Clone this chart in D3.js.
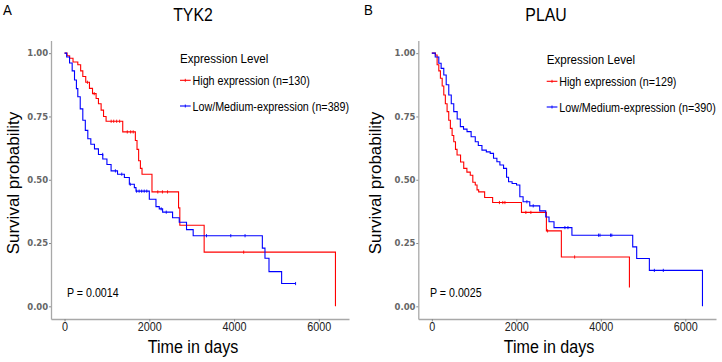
<!DOCTYPE html>
<html>
<head>
<meta charset="utf-8">
<script src="https://cdn.jsdelivr.net/npm/d3@7"></script>
<style>
  body { margin: 0; background: #fff; }
  svg { display: block; }
</style>
</head>
<body>
<script>
var panelLetters = ["A", "B"];
var genes = ["TYK2", "PLAU"];
var groupNames = ["High expression", "Low/Medium-expression"];
var groupN = [[130, 389], [129, 390]];
var pValues = ["P = 0.0014", "P = 0.0025"];
var xTicks = [0, 2000, 4000, 6000];
var yTicks = [0, 0.25, 0.5, 0.75, 1];

// TYK2 high expression (time in days / survival)
var tykHighT = [0, 60, 120, 200, 313, 380, 431, 500, 588, 660, 745, 800, 863, 920, 980, 1373, 1671, 1710, 1748, 1790, 1828, 2063, 2690, 2720, 3294, 6392];
var tykHighS = [1, 0.99, 0.98, 0.965, 0.954, 0.93, 0.908, 0.885, 0.861, 0.84, 0.821, 0.80, 0.775, 0.75, 0.731, 0.689, 0.655, 0.62, 0.575, 0.545, 0.522, 0.452, 0.389, 0.32, 0.214, 0];
var tykHighCens = [540, 700, 1100, 1160, 1230, 1300, 1480, 1560, 1620, 2200, 2310, 2430, 4227];

// TYK2 low/medium expression
var tykLowT = [0, 50, 118, 180, 235, 280, 313, 370, 431, 490, 549, 620, 706, 800, 902, 1000, 1098, 1250, 1412, 1529, 1647, 1686, 2000, 2157, 2235, 2314, 2549, 2706, 2878, 3035, 4667, 4729, 4824, 5122, 5451];
var tykLowS = [1, 0.985, 0.961, 0.93, 0.894, 0.86, 0.828, 0.78, 0.735, 0.695, 0.662, 0.64, 0.622, 0.60, 0.582, 0.56, 0.535, 0.522, 0.509, 0.482, 0.469, 0.455, 0.423, 0.394, 0.385, 0.372, 0.35, 0.332, 0.303, 0.279, 0.23, 0.19, 0.137, 0.09, 0.09];
var tykLowCens = [900, 1200, 1350, 1550, 1700, 1760, 1820, 1880, 1940, 2280, 2400, 3349, 3922, 4259, 5451];

// PLAU high expression
var plauHighT = [0, 85, 125, 165, 203, 245, 283, 320, 361, 400, 439, 480, 519, 560, 597, 680, 755, 830, 910, 970, 1028, 1070, 1108, 1250, 1439, 2122, 2712, 3066, 4677];
var plauHighS = [1, 0.993, 0.954, 0.93, 0.901, 0.87, 0.835, 0.80, 0.769, 0.735, 0.703, 0.675, 0.65, 0.62, 0.598, 0.57, 0.545, 0.53, 0.518, 0.49, 0.479, 0.46, 0.452, 0.43, 0.41, 0.371, 0.298, 0.195, 0.074];
var plauHighCens = [1600, 1680, 1730, 2226, 2344, 2740, 3380];

// PLAU low/medium expression
var plauLowT = [0, 80, 165, 220, 283, 340, 401, 460, 519, 600, 675, 750, 833, 930, 1028, 1100, 1186, 1290, 1382, 1460, 1540, 1611, 1698, 1769, 1816, 1900, 2005, 2083, 2160, 2318, 2554, 2696, 2774, 2892, 3316, 4755, 4849, 5149, 6406];
var plauLowS = [1, 0.985, 0.96, 0.94, 0.914, 0.875, 0.835, 0.80, 0.769, 0.74, 0.71, 0.70, 0.69, 0.67, 0.65, 0.635, 0.617, 0.61, 0.604, 0.585, 0.571, 0.558, 0.545, 0.51, 0.492, 0.485, 0.479, 0.433, 0.413, 0.397, 0.377, 0.353, 0.334, 0.311, 0.281, 0.235, 0.189, 0.142, 0];
var plauLowCens = [2250, 2400, 3150, 3222, 3946, 3980, 4230, 4260, 5267, 5479];

var colors = ["#ff0000", "#0000ff"];
var font = "'Liberation Sans', Arial, Helvetica, sans-serif";

var svg = d3.select("body").append("svg")
  .attr("width", 722)
  .attr("height", 362);

function label(g, x, y, str, size, sx, anchor) {
  return g.append("text")
    .attr("transform", "translate(" + x + "," + y + ") scale(" + sx + ",1)")
    .attr("text-anchor", anchor || "start")
    .style("font-family", font)
    .style("font-size", size + "px")
    .attr("fill", "#000")
    .text(str);
}

function drawPanel(i, ox, left, right, curves, lay) {
  var g = svg.append("g").attr("transform", "translate(" + ox + ",0)");
  var tMax = d3.max(curves, function(c){ return d3.max(c.t); });

  var x = d3.scaleLinear()
    .domain([-0.05 * tMax, 1.05 * tMax])
    .range([left, right]);
  var y = d3.scaleLinear()
    .domain([-0.05, 1.05])
    .range([319, 40.5]);

  var yAxis = d3.axisLeft(y).tickValues(yTicks).tickFormat(d3.format(".2f"))
    .tickSize(2).tickSizeOuter(0).tickPadding(0.8);
  var xAxis = d3.axisBottom(x).tickValues(xTicks).tickFormat(d3.format("d"))
    .tickSize(2.5).tickSizeOuter(0);

  var ya = g.append("g").attr("transform", "translate(" + left + ",0)").call(yAxis);
  ya.select(".domain").attr("stroke", "#a8a8a8").attr("stroke-width", 1.3);
  ya.selectAll(".tick line").attr("stroke", "#888");
  ya.selectAll(".tick text")
    .style("font-family", "'DejaVu Sans', sans-serif")
    .style("font-weight", "bold")
    .style("font-size", "8.5px")
    .attr("fill", "#666");

  var xa = g.append("g").attr("transform", "translate(0,319)").call(xAxis);
  xa.select(".domain").attr("stroke", "#a8a8a8").attr("stroke-width", 1.3);
  xa.selectAll(".tick line").attr("stroke", "#888");
  xa.selectAll(".tick text")
    .attr("y", 2.8)
    .attr("transform", "scale(0.83,1)")
    .style("font-family", font)
    .style("font-size", "13px")
    .attr("fill", "#222");

  var line = d3.line()
    .curve(d3.curveStepAfter)
    .x(function(d){ return x(d[0]); })
    .y(function(d){ return y(d[1]); });

  curves.forEach(function(c, k){
    var pts = d3.zip(c.t, c.s);
    g.append("path")
      .datum(pts)
      .attr("d", line)
      .attr("fill", "none")
      .attr("stroke", colors[k])
      .attr("stroke-width", 1.1);

    // censor marks sit on the step value at that time
    g.selectAll(null)
      .data(c.cens)
      .enter()
      .append("line")
      .attr("x1", function(d){ return x(d); })
      .attr("x2", function(d){ return x(d); })
      .attr("y1", function(d){ return y(c.s[d3.bisectRight(c.t, d) - 1]) - 1.6; })
      .attr("y2", function(d){ return y(c.s[d3.bisectRight(c.t, d) - 1]) + 1.6; })
      .attr("stroke", colors[k])
      .attr("stroke-width", 0.9);
  });

  // legend
  label(g, lay.legX, lay.legY, "Expression Level", 13.5, 0.86);
  groupNames.forEach(function(name, k){
    var ly = lay.legY + 17.3 + k * 25.7;
    g.append("line")
      .attr("x1", lay.legX).attr("x2", lay.legX + 10.7)
      .attr("y1", ly).attr("y2", ly)
      .attr("stroke", colors[k]).attr("stroke-width", 1.1);
    g.append("line")
      .attr("x1", lay.legX + 5.3).attr("x2", lay.legX + 5.3)
      .attr("y1", ly - 1.5).attr("y2", ly + 1.5)
      .attr("stroke", colors[k]).attr("stroke-width", 0.9);
    label(g, lay.legX + 12.5, ly + 4.7, name + " (n=" + groupN[i][k] + ")", 12.5, 0.86);
  });

  label(g, 3, 15, panelLetters[i], 14, 0.95);
  label(g, lay.titleX, 21, genes[i], 18, 0.88, "middle");
  label(g, lay.pX, 297, pValues[i], 13, 0.82);
  label(g, lay.xTitleX, 353, "Time in days", 18.5, 0.87, "middle");

  g.append("text")
    .attr("transform", "translate(" + lay.yTitleX + ",183) rotate(-90)")
    .attr("text-anchor", "middle")
    .style("font-family", font)
    .style("font-size", "17px")
    .text("Survival probability");
}

drawPanel(0, 0, 51, 349, [
  {t: tykHighT, s: tykHighS, cens: tykHighCens},
  {t: tykLowT, s: tykLowS, cens: tykLowCens}
], {legX: 180, legY: 63, titleX: 193, pX: 67, xTitleX: 193, yTitleX: 19});

drawPanel(1, 361, 57.3, 355, [
  {t: plauHighT, s: plauHighS, cens: plauHighCens},
  {t: plauLowT, s: plauLowS, cens: plauLowCens}
], {legX: 185.7, legY: 64, titleX: 185, pX: 69, xTitleX: 188, yTitleX: 20});
</script>
</body>
</html>
